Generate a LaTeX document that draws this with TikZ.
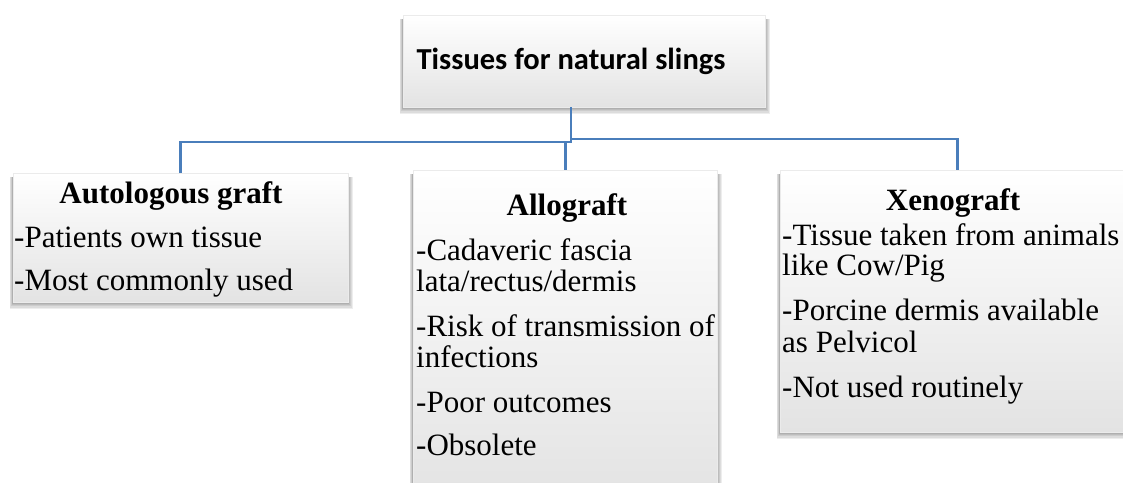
\documentclass[tikz,border=0pt]{standalone}
\usepackage{fontspec}
\setmainfont{Liberation Serif}
\newfontfamily\titlefont{Carlito}
\usetikzlibrary{backgrounds}
\definecolor{linkblue}{RGB}{74,126,187}
\begin{document}
\begin{tikzpicture}[x=1pt,y=-1pt,
  box/.style={rectangle, inner sep=0pt, draw=black!8, line width=0.4pt,
    top color=white, middle color=white, bottom color=black!11},
  link/.style={draw=linkblue, line width=2.8pt},
  toptitle/.style={font=\titlefont\bfseries\fontsize{30.5}{30.5}\selectfont, anchor=base, inner sep=0pt},
  head/.style={font=\bfseries\fontsize{31}{31}\selectfont, anchor=base, inner sep=0pt},
  body/.style={font=\fontsize{31}{31}\selectfont, anchor=base west, inner sep=0pt}]
\useasboundingbox (0,0) rectangle (1123,482);

% boxes
\node[box, anchor=north west, minimum width=362pt, minimum height=92pt] (top) at (403,15) {};
\node[box, anchor=north west, minimum width=335pt, minimum height=129pt] (auto) at (13,173) {};
\node[box, anchor=north west, minimum width=304pt, minimum height=330pt] (allo) at (413,170) {};
\node[box, anchor=north west, minimum width=355pt, minimum height=262pt] (xeno) at (780,170) {};

% soft shadows
\begin{scope}[on background layer]
\fill[white] (0,0) rectangle (1123,482);
\foreach \b in {top,auto,allo,xeno}{
  \foreach \d in {1,2,3,4,5}{
    \fill[black, opacity=0.07] ([shift={(-0.7*\d,4)}]\b.north west) rectangle ([shift={(\d,1.3*\d)}]\b.south east);
  }
}
\end{scope}

% connectors
\coordinate (j1) at (571,139);
\coordinate (j2) at (allo.north |- 0,142);
\draw[link] (top.south -| j1) -- (j1) -| (xeno.north);
\draw[link] (j1) |- (j2);
\draw[link] (auto.north) |- (j2) -- (allo.north);

% texts
\node[toptitle] (toptext) at (571,69) {Tissues for natural slings};

\node[head] (autohead) at (171,203) {Autologous graft};
\node[body] (auto1) at (14,247) {-Patients own tissue};
\node[body] (auto2) at (14,290) {-Most commonly used};

\node[head] (allohead) at (567,215) {Allograft};
\node[body] (allo1) at (416,260) {-Cadaveric fascia};
\node[body] (allo2) at (416,291) {lata/rectus/dermis};
\node[body] (allo3) at (416,336) {-Risk of transmission of};
\node[body] (allo4) at (416,367) {infections};
\node[body] (allo5) at (416,412) {-Poor outcomes};
\node[body] (allo6) at (416,455) {-Obsolete};

\node[head] (xenohead) at (953,210) {Xenograft};
\node[body] (xeno1) at (782,245) {-Tissue taken from animals};
\node[body] (xeno2) at (782,275) {like Cow/Pig};
\node[body] (xeno3) at (782,320) {-Porcine dermis available};
\node[body] (xeno4) at (782,352) {as Pelvicol};
\node[body] (xeno5) at (782,397) {-Not used routinely};
\end{tikzpicture}
\end{document}
